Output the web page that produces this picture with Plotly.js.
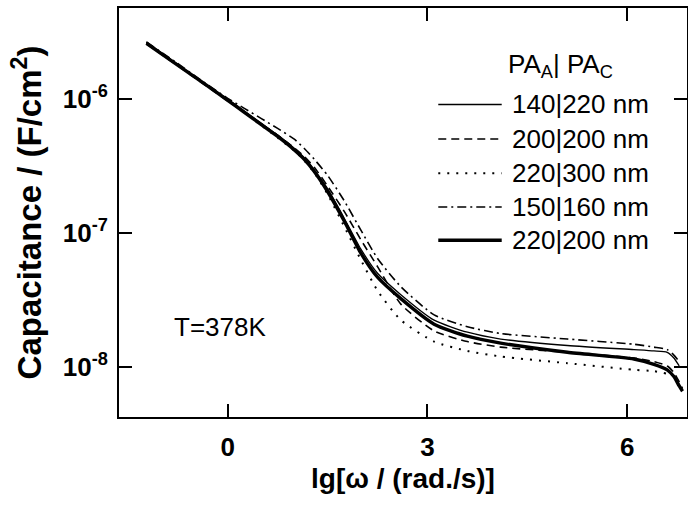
<!DOCTYPE html>
<html>
<head>
<meta charset="utf-8">
<script src="https://cdn.plot.ly/plotly-3.0.1.min.js"></script>
<style>html,body{margin:0;padding:0;background:#fff;}#chart{width:688px;height:505px;}</style>
</head>
<body>
<div id="chart"></div>
<script>
// lg[omega / (rad/s)]
var lgOmega = [-1.22, -0.8, -0.4, 0, 0.25, 0.5, 0.75, 1.0, 1.15, 1.3, 1.5, 1.75, 2.0, 2.25, 2.6, 3.1, 3.6, 4.1, 5.1, 6.1, 6.4, 6.6, 6.7, 6.78, 6.83];

// Capacitance (F/cm^2)
var cap140_220 = [2.66e-6, 1.88e-6, 1.36e-6, 1.00e-6, 8.13e-7, 6.61e-7, 5.37e-7, 4.27e-7, 3.63e-7, 2.95e-7, 2.14e-7, 1.29e-7, 7.59e-8, 5.01e-8, 3.47e-8, 2.24e-8, 1.82e-8, 1.62e-8, 1.45e-8, 1.35e-8, 1.32e-8, 1.29e-8, 1.17e-8, 1.02e-8, null];
var cap200_200 = [2.57e-6, 1.84e-6, 1.33e-6, 9.66e-7, 7.94e-7, 6.53e-7, 5.37e-7, 4.32e-7, 3.72e-7, 3.09e-7, 2.24e-7, 1.45e-7, 8.91e-8, 5.62e-8, 2.95e-8, 1.86e-8, 1.55e-8, 1.41e-8, 1.29e-8, 1.17e-8, 1.10e-8, 1.02e-8, 9.12e-9, 7.76e-9, 6.92e-9];
var cap220_300 = [2.63e-6, 1.86e-6, 1.35e-6, 9.77e-7, 7.94e-7, 6.38e-7, 5.13e-7, 4.12e-7, 3.47e-7, 2.82e-7, 1.95e-7, 1.12e-7, 6.31e-8, 3.72e-8, 2.24e-8, 1.55e-8, 1.32e-8, 1.20e-8, 1.07e-8, 9.55e-9, 9.33e-9, 8.91e-9, null, null, null];
var cap150_160 = [2.66e-6, 1.91e-6, 1.38e-6, 1.01e-6, 8.51e-7, 7.16e-7, 6.03e-7, 5.01e-7, 4.27e-7, 3.55e-7, 2.69e-7, 1.74e-7, 1.05e-7, 6.46e-8, 3.98e-8, 2.45e-8, 2.00e-8, 1.78e-8, 1.62e-8, 1.48e-8, 1.41e-8, 1.35e-8, 1.23e-8, 1.10e-8, null];
var cap220_200 = [2.60e-6, 1.86e-6, 1.35e-6, 9.77e-7, 7.94e-7, 6.46e-7, 5.25e-7, 4.17e-7, 3.55e-7, 2.88e-7, 2.04e-7, 1.23e-7, 7.08e-8, 4.68e-8, 3.24e-8, 2.09e-8, 1.70e-8, 1.51e-8, 1.29e-8, 1.15e-8, 1.05e-8, 9.55e-9, 8.51e-9, 7.24e-9, 6.61e-9];

var seriesNames = ['140|220 nm', '200|200 nm', '220|300 nm', '150|160 nm', '220|200 nm'];
var xTickVals = [0, 3, 6];
var xTickText = ['0', '3', '6'];
var yTickVals = [1e-8, 1e-7, 1e-6];
var yTickText = ['10<sup>-8</sup>', '10<sup>-7</sup>', '10<sup>-6</sup>'];

var seriesData = [cap140_220, cap200_200, cap220_300, cap150_160, cap220_200];
var styles = [
  {width: 1.3, dash: 'solid'},
  {width: 1.6, dash: '8px,5px'},
  {width: 2.0, dash: '2px,7px'},
  {width: 1.6, dash: '9px,4px,2px,4px'},
  {width: 3.4, dash: 'solid'}
];

var traces = seriesData.map(function (ys, i) {
  return {
    x: lgOmega, y: ys, type: 'scatter', mode: 'lines', name: seriesNames[i],
    line: {color: '#000', width: styles[i].width, dash: styles[i].dash, shape: 'spline', smoothing: 0.6},
    connectgaps: false, showlegend: false, hoverinfo: 'skip'
  };
});

var FONT = 'Liberation Sans, Arial, Helvetica, sans-serif';

// custom legend (paper coords)
var rowY = [0.7641, 0.6797, 0.5958, 0.5134, 0.4320];
var shapes = [], annotations = [];
rowY.forEach(function (yy, i) {
  shapes.push({type: 'line', xref: 'paper', yref: 'paper', x0: 0.5621, x1: 0.6738, y0: yy, y1: yy,
    line: {color: '#000', width: styles[i].width, dash: styles[i].dash}});
  annotations.push({xref: 'paper', yref: 'paper', x: 0.6884, y: yy, xanchor: 'left', yanchor: 'middle',
    text: seriesNames[i], showarrow: false, font: {family: FONT, size: 26, color: '#000'}});
});
annotations.push({xref: 'paper', yref: 'paper', x: 0.6813, y: 0.8606, xanchor: 'left', yanchor: 'middle',
  text: 'PA<sub>A</sub>| PA<sub>C</sub>', showarrow: false, font: {family: FONT, size: 26, color: '#000'}});
annotations.push({xref: 'paper', yref: 'paper', x: 0.0928, y: 0.2208, xanchor: 'left', yanchor: 'middle',
  text: 'T=378K', showarrow: false, font: {family: FONT, size: 26, color: '#000'}});

var layout = {
  width: 688, height: 505,
  margin: {l: 119, r: 1, t: 8, b: 88, pad: 0},
  paper_bgcolor: '#fff', plot_bgcolor: '#fff',
  showlegend: false,
  font: {family: FONT, color: '#000'},
  xaxis: {
    range: [-1.632, 6.897], tickvals: xTickVals, ticktext: xTickText,
    ticks: 'inside', ticklen: 13, tickwidth: 2, tickcolor: '#000',
    showline: true, linewidth: 2, linecolor: '#000', mirror: 'ticks',
    showgrid: false, zeroline: false,
    tickfont: {family: FONT, size: 26, weight: 'bold', color: '#000'},
    ticklabelstandoff: 6,
    title: {text: 'lg[ω / (rad./s)]', font: {family: FONT, size: 28, weight: 'bold', color: '#000'}, standoff: 7}
  },
  yaxis: {
    type: 'log', range: [-8.372, -5.322], tickvals: yTickVals, ticktext: yTickText,
    ticks: 'inside', ticklen: 13, tickwidth: 2, tickcolor: '#000',
    showline: true, linewidth: 2, linecolor: '#000', mirror: 'ticks',
    showgrid: false, zeroline: false,
    tickfont: {family: FONT, size: 26, weight: 'bold', color: '#000'},
    ticklabelstandoff: 4,
    title: {text: 'Capacitance / (F/cm<sup>2</sup>)', font: {family: FONT, size: 33, weight: 'bold', color: '#000'}, standoff: 11}
  },
  shapes: shapes,
  annotations: annotations
};

Plotly.newPlot('chart', traces, layout, {displayModeBar: false, staticPlot: true});
</script>
</body>
</html>
